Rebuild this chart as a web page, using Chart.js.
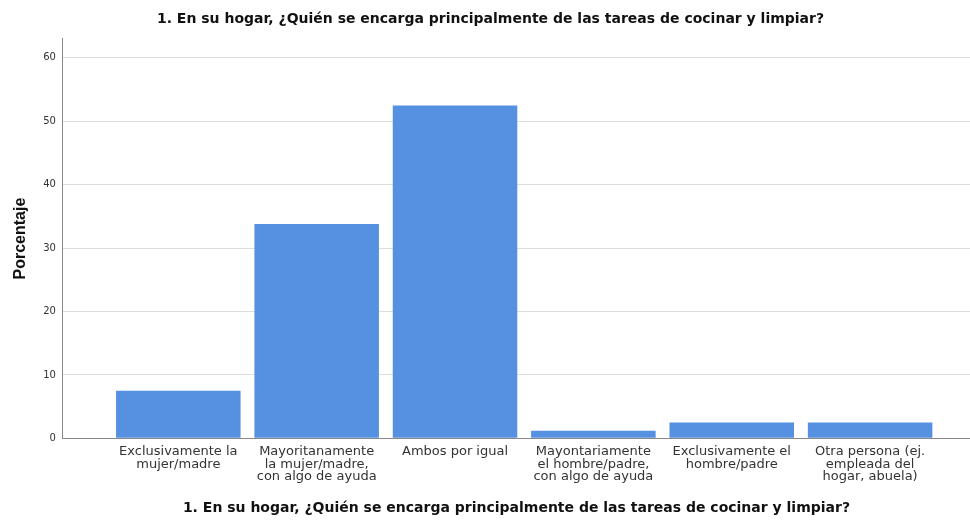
<!DOCTYPE html>
<html>
<head>
<meta charset="utf-8">
<script src="https://cdn.jsdelivr.net/npm/chart.js@4/dist/chart.umd.min.js"></script>
<style>
  html, body { margin: 0; padding: 0; background: #fff; }
  #wrap { width: 970px; height: 529px; }
</style>
</head>
<body>
<div id="wrap"><canvas id="chart"></canvas></div>
<script>
const categories = [
  ['Exclusivamente la', 'mujer/madre'],
  ['Mayoritanamente', 'la mujer/madre,', 'con algo de ayuda'],
  ['Ambos por igual'],
  ['Mayontariamente', 'el hombre/padre,', 'con algo de ayuda'],
  ['Exclusivamente el', 'hombre/padre'],
  ['Otra persona (ej.', 'empleada del', 'hogar, abuela)']
];
const percentages = [7.5, 33.8, 52.5, 1.2, 2.5, 2.5];
const yTicks = [0, 10, 20, 30, 40, 50, 60];
const titleText = '1. En su hogar, ¿Quién se encarga principalmente de las tareas de cocinar y limpiar?';

Chart.defaults.font.family = '"DejaVu Sans", "Liberation Sans", sans-serif';
Chart.defaults.color = '#333';

new Chart(document.getElementById('chart'), {
  type: 'bar',
  data: {
    datasets: [{
      data: percentages.map((v, i) => ({ x: i, y: v })),
      backgroundColor: '#5591e0',
      borderWidth: 0,
      barPercentage: 0.9,
      categoryPercentage: 1
    }]
  },
  options: {
    responsive: true,
    maintainAspectRatio: false,
    animation: false,
    layout: { padding: { left: 11, right: 0, top: 0, bottom: 12 } },
    plugins: {
      legend: { display: false },
      tooltip: { enabled: false },
      title: {
        display: true,
        text: titleText,
        color: '#111',
        font: { size: 14, weight: 'bold' },
        padding: { top: 11, bottom: 11 }
      }
    },
    scales: {
      x: {
        type: 'linear',
        offset: false,
        min: -0.834,
        max: 5.722,
        afterBuildTicks: (scale) => { scale.ticks = categories.map((c, i) => ({ value: i })); },
        ticks: {
          autoSkip: false,
          maxRotation: 0,
          padding: 7,
          color: '#333',
          font: { size: 13, lineHeight: 0.97 },
          callback: (v) => categories[v]
        },
        grid: { display: false, drawTicks: false },
        border: { display: true, color: '#888' },
        title: {
          display: true,
          text: titleText,
          color: '#111',
          font: { size: 14, weight: 'bold' },
          padding: { top: 10, bottom: 0 }
        }
      },
      y: {
        min: 0,
        max: 63,
        afterBuildTicks: (scale) => { scale.ticks = yTicks.map((v) => ({ value: v })); },
        ticks: { padding: 7, color: '#333', font: { size: 10 } },
        grid: { color: '#dcdcdc', drawTicks: false },
        border: { display: true, color: '#888' },
        title: {
          display: true,
          text: 'Porcentaje',
          color: '#111',
          font: { family: '"Liberation Sans", Arial, sans-serif', size: 16, weight: 'bold' },
          padding: { top: 0, bottom: 6 }
        }
      }
    }
  }
});
</script>
</body>
</html>
